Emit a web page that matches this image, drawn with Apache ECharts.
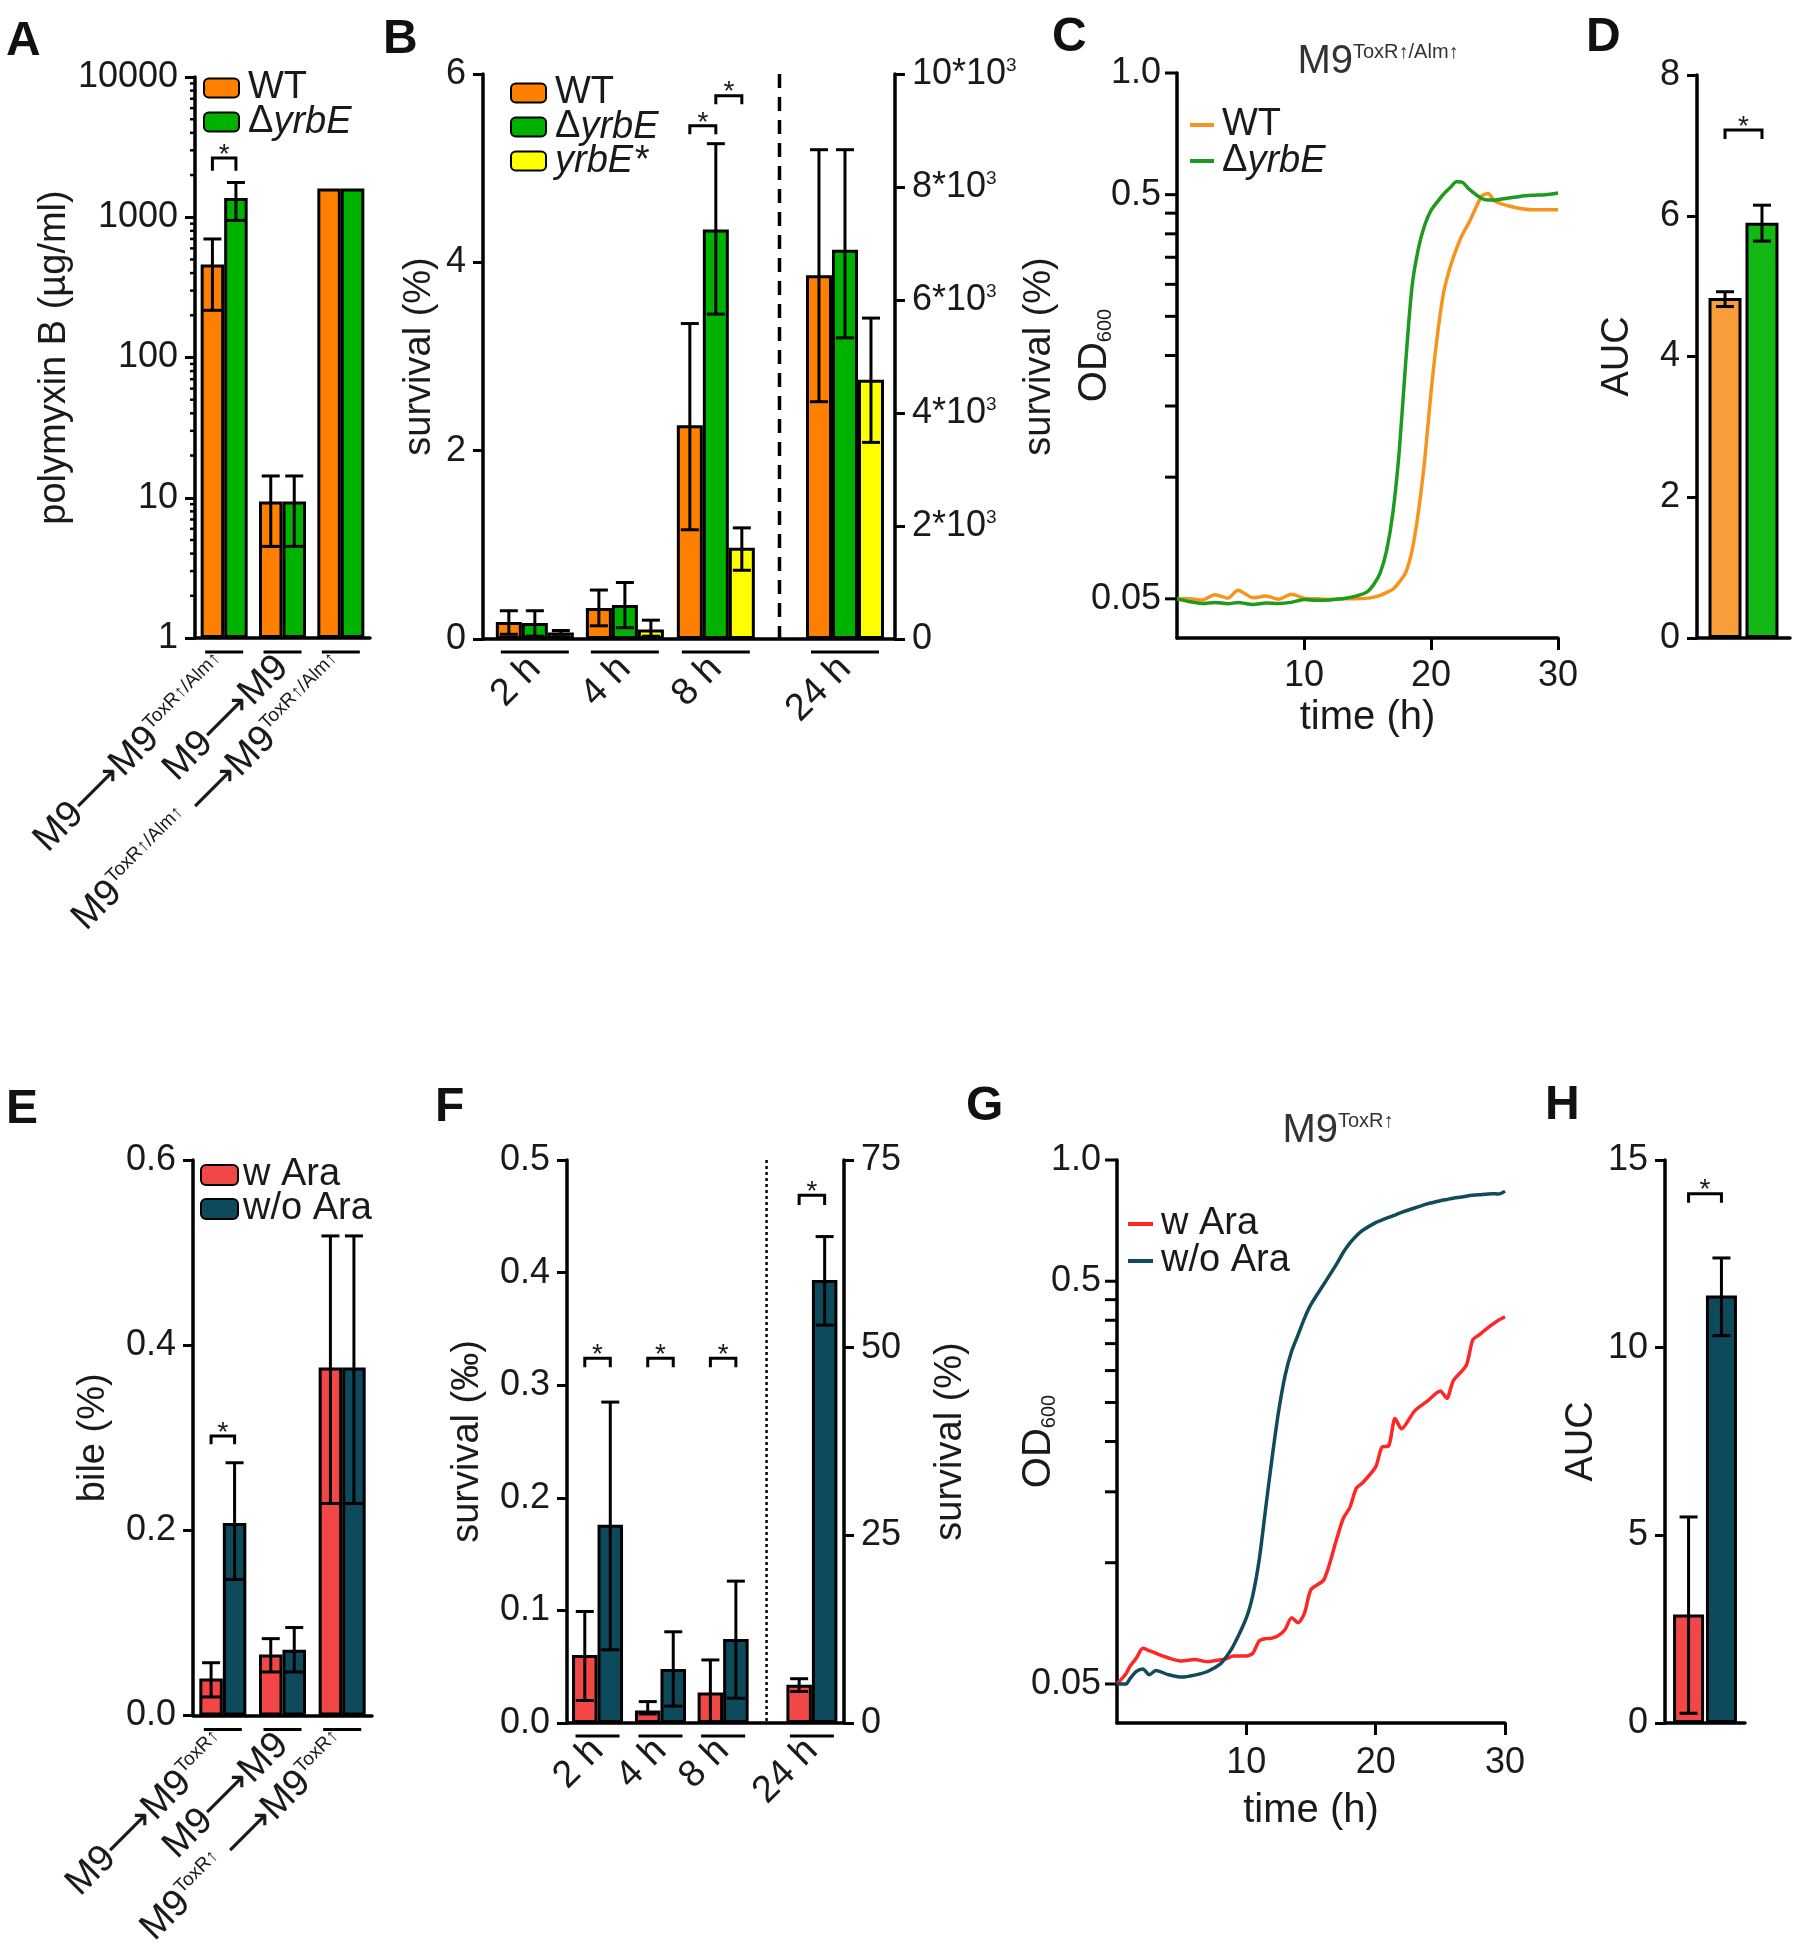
<!DOCTYPE html>
<html>
<head>
<meta charset="utf-8">
<title>yrbE / ToxR survival and growth</title>
<script src="https://cdn.jsdelivr.net/npm/echarts@6.0.0/dist/echarts.min.js"></script>
<style>
  html, body { margin: 0; padding: 0; background: #fff; }
  #page { position: relative; width: 1796px; height: 1950px; }
  .panel { position: absolute; left: 0; top: 0; width: 1796px; height: 1950px; }
</style>
</head>
<body>
<div id="page">
  <div class="panel" id="pA"></div>
  <div class="panel" id="pB"></div>
  <div class="panel" id="pC"></div>
  <div class="panel" id="pD"></div>
  <div class="panel" id="pE"></div>
  <div class="panel" id="pF"></div>
  <div class="panel" id="pG"></div>
  <div class="panel" id="pH"></div>
</div>
<script>
// ---------------- data ----------------
// A: polymyxin B MIC (log axis)
const aLabels = ['M9⟶M9{s|ToxR↑/Alm↑}', 'M9⟶M9', 'M9{s|ToxR↑/Alm↑} ⟶M9{s|ToxR↑/Alm↑}'];
const aWT = [460, 9.4, 1600];
const aWTLo = [217, 4.5, null];
const aWTHi = [700, 14.3, null];
const aDel = [1370, 9.4, 1600];
const aDelLo = [950, 4.5, null];
const aDelHi = [1770, 14.3, null];
const aSig = [2650, 2150];

// B: survival, 2/4/8 h on left axis, 24 h on right axis
const bCats = ['2 h', '4 h', '8 h', '24 h'];
const bWT = [0.18, 0.33, 2.27];
const bWTLo = [0.05, 0.14, 1.16];
const bWTHi = [0.30, 0.52, 3.35];
const bDel = [0.17, 0.36, 4.35];
const bDelLo = [0.03, 0.12, 3.45];
const bDelHi = [0.30, 0.60, 5.26];
const bStar = [0.07, 0.10, 0.97];
const bStarLo = [0.05, 0.03, 0.73];
const bStarHi = [0.09, 0.20, 1.18];
const b24 = [6440, 6890, 4590];        // WT, ΔyrbE, yrbE*
const b24Lo = [4200, 5330, 3480];
const b24Hi = [8660, 8660, 5680];
const bSig = [[5.45, 5.36], [5.77, 5.68]];

// C: growth curves in M9 ToxR↑/Alm↑
const cTime = [0, 1, 2, 3, 4, 4.8, 6, 7, 8, 9, 10, 11, 12, 13, 14, 15, 15.5, 16, 16.5, 17,
  17.5, 18, 18.5, 19, 19.5, 20, 20.5, 21, 21.5, 22, 22.5, 23, 24, 24.5, 25, 26, 27, 28, 29, 30];
const cWT = [0.050, 0.0500, 0.0497, 0.0512, 0.0502, 0.0525, 0.0503, 0.0508, 0.0499, 0.0513,
  0.0502, 0.0500, 0.0498, 0.0500, 0.0500, 0.0502, 0.0505, 0.0510, 0.0518, 0.0528,
  0.0550, 0.0580, 0.0657, 0.0817, 0.110, 0.162, 0.224, 0.287, 0.330, 0.367,
  0.400, 0.427, 0.496, 0.503, 0.482, 0.470, 0.462, 0.459, 0.459, 0.459];
const cDel = [0.050, 0.0492, 0.0487, 0.0490, 0.0486, 0.0490, 0.0484, 0.0488, 0.0487, 0.0490,
  0.0498, 0.0496, 0.0497, 0.0500, 0.0507, 0.0521, 0.0543, 0.0580, 0.0657, 0.0817,
  0.116, 0.191, 0.295, 0.367, 0.420, 0.457, 0.480, 0.502, 0.520, 0.538,
  0.536, 0.516, 0.489, 0.485, 0.485, 0.490, 0.495, 0.498, 0.500, 0.505];

// D: AUC
const dWT = [4.83], dWTLo = [4.71], dWTHi = [4.92];
const dDel = [5.90], dDelLo = [5.64], dDelHi = [6.15];
const dSig = [7.22, 7.09];

// E: bile MIC
const eLabels = ['M9⟶M9{s|ToxR↑}', 'M9⟶M9', 'M9{s|ToxR↑} ⟶M9{s|ToxR↑}'];
const eWith = [0.040, 0.066, 0.376];
const eWithLo = [0.020, 0.047, 0.229];
const eWithHi = [0.057, 0.083, 0.518];
const eWithout = [0.208, 0.071, 0.376];
const eWithoutLo = [0.147, 0.047, 0.229];
const eWithoutHi = [0.273, 0.095, 0.518];
const eSig = [0.302, 0.293];

// F: survival (‰ for 2-8 h, % for 24 h)
const fCats = ['2 h', '4 h', '8 h', '24 h'];
const fWith = [0.0605, 0.011, 0.027];
const fWithLo = [0.020, 0.008, 0.001];
const fWithHi = [0.099, 0.019, 0.056];
const fWithout = [0.176, 0.048, 0.0745];
const fWithoutLo = [0.065, 0.015, 0.022];
const fWithoutHi = [0.285, 0.081, 0.126];
const f24 = [5.1, 59.0];
const f24Lo = [4.2, 53.0];
const f24Hi = [5.9, 64.8];
const fSig = [0.324, 0.316];
const fSig24 = [70.3, 69.0];

// G: growth curves in M9 ToxR↑
const gTime = [0, 0.7, 1, 1.5, 2, 2.5, 3, 4, 5, 6, 7, 8, 8.5, 9, 10, 10.5, 11, 11.5, 12, 12.5,
  13, 13.5, 14, 14.5, 15, 16, 17, 17.5, 18, 18.5, 19, 20, 20.5, 21, 21.5, 22, 23, 24, 25, 25.5,
  26, 27, 27.5, 28, 29, 29.5, 30];
const gWith = [0.050, 0.053, 0.0553, 0.058, 0.0613, 0.0605, 0.0596, 0.058, 0.057, 0.0575,
  0.0568, 0.0574, 0.0578, 0.0587, 0.0587, 0.0596, 0.064, 0.0648, 0.065, 0.066,
  0.0683, 0.073, 0.071, 0.075, 0.0857, 0.0908, 0.115, 0.129, 0.137, 0.153,
  0.158, 0.173, 0.194, 0.195, 0.228, 0.215, 0.238, 0.252, 0.267, 0.256,
  0.283, 0.309, 0.357, 0.368, 0.390, 0.400, 0.408];
const gWithout = [0.050, 0.050, 0.0515, 0.0537, 0.0545, 0.0527, 0.054, 0.0527, 0.052, 0.0526,
  0.0537, 0.0561, 0.0587, 0.0622, 0.073, 0.083, 0.102, 0.137, 0.183, 0.238,
  0.292, 0.335, 0.368, 0.405, 0.438, 0.492, 0.553, 0.59, 0.622, 0.648,
  0.669, 0.699, 0.71, 0.72, 0.73, 0.741, 0.760, 0.778, 0.792, 0.798,
  0.804, 0.813, 0.817, 0.820, 0.825, 0.823, 0.837];

// H: AUC
const hWith = [2.89], hWithLo = [0.26], hWithHi = [5.49];
const hWithout = [11.39], hWithoutLo = [10.32], hWithoutHi = [12.39];
const hSig = [14.1, 13.86];

// OD axis ticks (C, G)
const odMajor = [1, 0.5, 0.05];
const odMajorText = ['1.0', '0.5', '0.05'];
const odMinor = [0.45, 0.4, 0.35, 0.3, 0.25, 0.2, 0.15, 0.1];

// ---------------- style ----------------
const FONT = '"Liberation Sans", Arial, Helvetica, sans-serif';
const INK = '#1a1a1a';
const FS = 36;        // tick labels
const CAT_FS = 38;    // rotated category labels
const LEG_FS = 38;    // legend text
const ORANGE = '#FF8000', GREEN = '#00B200', YELLOW = '#FFFF00';
const C_ORANGE = '#F7941D', C_GREEN = '#1E9A1E';
const D_ORANGE = '#F99D3A', D_GREEN = '#14B814';
const RED = '#F24747', TEAL = '#0C4A5C';
const G_RED = '#FF2626', G_TEAL = '#0F4B5B';

const RICH = {
  s: { fontSize: 19, fontFamily: FONT, color: INK, verticalAlign: 'top' },
  d: { fontSize: 19, fontFamily: FONT, color: INK, verticalAlign: 'bottom' },
};
const AX_LINE = { show: true, onZero: false, lineStyle: { color: '#000', width: 3.5 } };
const AX_TICK = { show: true, length: 10, lineStyle: { color: '#000', width: 3 } };
const NAME_STYLE = { color: INK, fontSize: 38, fontFamily: FONT, rich: { d: { fontSize: 20, fontFamily: FONT, color: INK, verticalAlign: 'bottom' } } };
const XNAME_STYLE = { color: INK, fontSize: 40, fontFamily: FONT };

function labelStyle(extra) {
  return Object.assign({ color: INK, fontSize: FS, fontFamily: FONT, margin: 17, rich: RICH }, extra);
}
function catLabelStyle(extra) {
  return labelStyle(Object.assign({ fontSize: CAT_FS, rotate: 45, interval: 0 }, extra));
}
function legendText(pad) {
  return {
    color: INK, fontSize: LEG_FS, fontFamily: FONT, padding: [0, 0, 0, pad],
    rich: { i: { fontSize: LEG_FS, fontFamily: FONT, color: INK, fontStyle: 'italic' } },
  };
}
function legendFmt(name) {
  if (name === 'ΔyrbE') return 'Δ{i|yrbE}';
  if (name === 'yrbE*') return '{i|yrbE*}';
  return name;
}
const nearest = (arr, v) => arr.reduce((b, a, i) => (Math.abs(a - v) < Math.abs(arr[b] - v) ? i : b), 0);

function bar(name, data, color, width, extra) {
  return Object.assign({
    name, type: 'bar', data, barWidth: width, barGap: '0%',
    itemStyle: { color, borderColor: '#000', borderWidth: 3 },
  }, extra);
}
function curve(name, xs, ys, color) {
  return {
    name, type: 'line', data: xs.map((t, i) => [t, ys[i]]), showSymbol: false, symbol: 'none',
    smooth: 0.25, lineStyle: { color, width: 3.5 }, itemStyle: { color },
  };
}
// error bars drawn through the axes' own coord()
function errBars(xs, lo, hi, offset, extra) {
  const data = [];
  lo.forEach((l, i) => { if (l != null) data.push([xs[i], l, hi[i]]); });
  return Object.assign({
    type: 'custom', z: 10, silent: true, data,
    encode: { x: 0, y: [1, 2] },
    renderItem(params, api) {
      const top = api.coord([api.value(0), api.value(2)]);
      const bot = api.coord([api.value(0), api.value(1)]);
      const x = top[0] + offset;
      const st = { stroke: '#000', lineWidth: 3 };
      return { type: 'group', children: [
        { type: 'line', shape: { x1: x, y1: top[1], x2: x, y2: bot[1] }, style: st },
        { type: 'line', shape: { x1: x - 9, y1: top[1], x2: x + 9, y2: top[1] }, style: st },
        { type: 'line', shape: { x1: x - 9, y1: bot[1], x2: x + 9, y2: bot[1] }, style: st },
      ] };
    },
  }, extra);
}

// graphic helpers
function seg(x1, y1, x2, y2, w, extra) {
  return { type: 'line', silent: true, shape: { x1, y1, x2, y2 },
    style: Object.assign({ stroke: '#000', lineWidth: w || 3 }, extra) };
}
function txt(x, y, text, align, vAlign, font, extra) {
  return { type: 'text', silent: true, x, y,
    style: Object.assign({ text, fill: INK, font, align, verticalAlign: vAlign,
      textAlign: align, textVerticalAlign: vAlign }, extra) };
}
function bracket(x1, x2, y, yLeg) {
  return [
    { type: 'polyline', silent: true, shape: { points: [[x1, yLeg], [x1, y], [x2, y], [x2, yLeg]] },
      style: { stroke: '#000', lineWidth: 3, fill: null } },
    txt((x1 + x2) / 2, y - 3, '*', 'center', 'middle', `28px ${FONT}`),
  ];
}
function letter(x, y, ch) {
  return txt(x, y, ch, 'left', 'middle', `bold 48px ${FONT}`, { fill: '#111' });
}
function plotTitle(x, y, sup) {
  return txt(x, y, `{m|M9}{t|${sup}}`, 'center', 'middle', `40px ${FONT}`, {
    rich: {
      m: { fontSize: 40, fontFamily: FONT, fill: '#333' },
      t: { fontSize: 20, fontFamily: FONT, fill: '#333', verticalAlign: 'top' },
    },
  });
}
function odTicks(yPx, axisX) {
  const g = [];
  odMajor.forEach((v, i) => {
    const y = yPx(v);
    g.push(seg(axisX - 12, y, axisX, y, 3));
    g.push(txt(axisX - 16, y, odMajorText[i], 'right', 'middle', `${FS}px ${FONT}`));
  });
  odMinor.forEach(v => g.push(seg(axisX - 12, yPx(v), axisX, yPx(v), 3)));
  return g;
}
function mk(id) { return echarts.init(document.getElementById(id)); }

// ---------------- A ----------------
(function () {
  const chart = mk('pA');
  const W = 23.5;
  chart.setOption({
    animation: false,
    grid: { left: 195, top: 77, width: 175, height: 561 },
    legend: {
      orient: 'vertical', left: 203, top: 69, padding: 0, itemWidth: 35, itemHeight: 19, itemGap: -4,
      data: ['WT', 'ΔyrbE'], formatter: legendFmt, textStyle: legendText(4),
    },
    xAxis: {
      type: 'category', data: aLabels, axisLine: AX_LINE, axisTick: { show: false },
      axisLabel: catLabelStyle({ margin: 24 }),
    },
    yAxis: {
      type: 'log', logBase: 10, min: 1, max: 10000, axisLine: AX_LINE, axisTick: AX_TICK,
      splitLine: { show: false }, axisLabel: labelStyle({ formatter: v => String(Math.round(v)) }),
      name: 'polymyxin B (µg/ml)', nameLocation: 'middle', nameRotate: 90, nameGap: 98,
      nameTextStyle: NAME_STYLE,
    },
    series: [
      bar('WT', aWT, ORANGE, W),
      bar('ΔyrbE', aDel, GREEN, W),
      errBars([0, 1, 2], aWTLo, aWTHi, -W / 2),
      errBars([0, 1, 2], aDelLo, aDelHi, W / 2),
    ],
  });
  const yPx = v => chart.convertToPixel({ yAxisIndex: 0 }, v);
  const xPx = i => chart.convertToPixel({ xAxisIndex: 0 }, i);
  const base = yPx(1);
  const g = [letter(6, 42, 'A')];
  for (let d = 1; d < 10000; d *= 10) {
    for (let k = 2; k < 10; k++) g.push(seg(190, yPx(d * k), 195, yPx(d * k), 2.5));
  }
  aLabels.forEach((_, i) => g.push(seg(xPx(i) - 19, base + 14, xPx(i) + 19, base + 14, 3)));
  g.push(...bracket(xPx(0) - W / 2, xPx(0) + W / 2, yPx(aSig[0]), yPx(aSig[1])));
  chart.setOption({ graphic: g });
})();

// ---------------- B ----------------
(function () {
  const chart = mk('pB');
  const W = 26;
  const bSlot = [0.57, 1.56, 2.56, 3.98];   // group centres along the slot axis
  const pairs = vals => vals.map((v, i) => [bSlot[i], v]);
  const R = { xAxisIndex: 1, yAxisIndex: 1 };
  chart.setOption({
    animation: false,
    grid: { left: 483, top: 74, width: 412, height: 565 },
    legend: {
      orient: 'vertical', left: 510, top: 74, padding: 0, itemWidth: 35, itemHeight: 19, itemGap: -4,
      data: ['WT', 'ΔyrbE', 'yrbE*'], formatter: legendFmt, textStyle: legendText(4),
    },
    xAxis: [
      { type: 'value', min: 0, max: 4.53, axisLine: AX_LINE, axisTick: { show: false }, splitLine: { show: false },
        axisLabel: catLabelStyle({ customValues: bSlot, formatter: v => bCats[nearest(bSlot, v)], margin: 24 }) },
      { type: 'value', min: 0, max: 4.53, show: false },
    ],
    yAxis: [
      { type: 'value', min: 0, max: 6, interval: 2, axisLine: AX_LINE, axisTick: AX_TICK, splitLine: { show: false },
        axisLabel: labelStyle(), name: 'survival (%)', nameLocation: 'middle', nameRotate: 90, nameGap: 44,
        nameTextStyle: NAME_STYLE },
      { type: 'value', position: 'right', min: 0, max: 10000, interval: 2000, axisLine: AX_LINE, axisTick: AX_TICK,
        splitLine: { show: false },
        axisLabel: labelStyle({ formatter: v => (v === 0 ? '0' : `${v / 1000}*10{s|3}`) }),
        name: 'survival (%)', nameLocation: 'middle', nameRotate: 90, nameGap: 112, nameTextStyle: NAME_STYLE },
    ],
    series: [
      bar('WT', pairs(bWT), ORANGE, W),
      bar('ΔyrbE', pairs(bDel), GREEN, W),
      bar('yrbE*', pairs(bStar), YELLOW, W),
      bar('WT', [[bSlot[3], b24[0]]], ORANGE, W, R),
      bar('ΔyrbE', [[bSlot[3], b24[1]]], GREEN, W, R),
      bar('yrbE*', [[bSlot[3], b24[2]]], YELLOW, W, R),
      errBars(bSlot, bWTLo, bWTHi, -W),
      errBars(bSlot, bDelLo, bDelHi, 0),
      errBars(bSlot, bStarLo, bStarHi, W),
      errBars([bSlot[3]], [b24Lo[0]], [b24Hi[0]], -W, R),
      errBars([bSlot[3]], [b24Lo[1]], [b24Hi[1]], 0, R),
      errBars([bSlot[3]], [b24Lo[2]], [b24Hi[2]], W, R),
    ],
  });
  const yPx = v => chart.convertToPixel({ yAxisIndex: 0 }, v);
  const xPx = v => chart.convertToPixel({ xAxisIndex: 0 }, v);
  const base = yPx(0);
  const g = [letter(383, 40, 'B')];
  g.push(seg(xPx(3.26), yPx(6), xPx(3.26), base, 3.5, { lineDash: [14, 9] }));
  bSlot.forEach(s => g.push(seg(xPx(s) - 34, base + 13, xPx(s) + 34, base + 13, 3)));
  const c8 = xPx(bSlot[2]);
  g.push(...bracket(c8 - W, c8, yPx(bSig[0][0]), yPx(bSig[0][1])));
  g.push(...bracket(c8, c8 + W, yPx(bSig[1][0]), yPx(bSig[1][1])));
  chart.setOption({ graphic: g });
})();

// ---------------- C ----------------
(function () {
  const chart = mk('pC');
  chart.setOption({
    animation: false,
    grid: { left: 1177, top: 73, width: 381, height: 565 },
    legend: {
      orient: 'vertical', left: 1190, top: 106, padding: 0, icon: 'rect', itemWidth: 24, itemHeight: 4, itemGap: -2,
      data: ['WT', 'ΔyrbE'], formatter: legendFmt, textStyle: legendText(3),
    },
    xAxis: {
      type: 'value', min: 0, max: 30, interval: 10, axisLine: AX_LINE,
      axisTick: { show: true, length: 12, customValues: [10, 20, 30], lineStyle: { color: '#000', width: 3 } },
      splitLine: { show: false }, axisLabel: labelStyle({ margin: 20, customValues: [10, 20, 30] }),
      name: 'time (h)', nameLocation: 'middle', nameGap: 60, nameTextStyle: XNAME_STYLE,
    },
    yAxis: {
      type: 'log', logBase: 10, min: 0.04, max: 1, axisLine: AX_LINE, axisTick: { show: false },
      axisLabel: { show: false }, splitLine: { show: false },
      name: 'OD{d|600}', nameLocation: 'middle', nameRotate: 90, nameGap: 62,
      nameTextStyle: Object.assign({}, NAME_STYLE, { fontSize: 40 }),
    },
    series: [curve('WT', cTime, cWT, C_ORANGE), curve('ΔyrbE', cTime, cDel, C_GREEN)],
  });
  const yPx = v => chart.convertToPixel({ yAxisIndex: 0 }, v);
  const g = [letter(1052, 38, 'C')];
  g.push(...odTicks(yPx, 1177));
  g.push(plotTitle(1378, 62, 'ToxR↑/Alm↑'));
  chart.setOption({ graphic: g });
})();

// ---------------- D ----------------
(function () {
  const chart = mk('pD');
  const W = 33, step = W * 1.12;
  chart.setOption({
    animation: false,
    grid: { left: 1697, top: 75, width: 93, height: 563 },
    xAxis: { type: 'category', data: [''], axisLine: AX_LINE, axisTick: { show: false }, axisLabel: { show: false } },
    yAxis: {
      type: 'value', min: 0, max: 8, interval: 2, axisLine: AX_LINE, axisTick: AX_TICK, splitLine: { show: false },
      axisLabel: labelStyle(), name: 'AUC', nameLocation: 'middle', nameRotate: 90, nameGap: 60, nameTextStyle: NAME_STYLE,
    },
    series: [
      bar('WT', dWT, D_ORANGE, W, { barGap: '12%' }),
      bar('ΔyrbE', dDel, D_GREEN, W, { barGap: '12%' }),
      errBars([0], dWTLo, dWTHi, -step / 2),
      errBars([0], dDelLo, dDelHi, step / 2),
    ],
  });
  const yPx = v => chart.convertToPixel({ yAxisIndex: 0 }, v);
  const cx = chart.convertToPixel({ xAxisIndex: 0 }, 0);
  const g = [letter(1586, 38, 'D')];
  g.push(...bracket(cx - step / 2, cx + step / 2, yPx(dSig[0]), yPx(dSig[1])));
  chart.setOption({ graphic: g });
})();

// ---------------- E ----------------
(function () {
  const chart = mk('pE');
  const W = 23.5;
  chart.setOption({
    animation: false,
    grid: { left: 193, top: 1160, width: 179, height: 563 },
    legend: {
      orient: 'vertical', left: 200, top: 1156, padding: 0, itemWidth: 37, itemHeight: 20, itemGap: -4,
      data: ['w Ara', 'w/o Ara'], textStyle: legendText(0),
    },
    xAxis: {
      type: 'category', data: eLabels, axisLine: AX_LINE, axisTick: { show: false },
      axisLabel: catLabelStyle({ margin: 24 }),
    },
    yAxis: {
      type: 'value', min: 0, max: 0.6, interval: 0.2, axisLine: AX_LINE, axisTick: AX_TICK, splitLine: { show: false },
      axisLabel: labelStyle({ formatter: v => v.toFixed(1) }),
      name: 'bile (%)', nameLocation: 'middle', nameRotate: 90, nameGap: 80, nameTextStyle: NAME_STYLE,
    },
    series: [
      bar('w Ara', eWith, RED, W),
      bar('w/o Ara', eWithout, TEAL, W),
      errBars([0, 1, 2], eWithLo, eWithHi, -W / 2),
      errBars([0, 1, 2], eWithoutLo, eWithoutHi, W / 2),
    ],
  });
  const yPx = v => chart.convertToPixel({ yAxisIndex: 0 }, v);
  const xPx = i => chart.convertToPixel({ xAxisIndex: 0 }, i);
  const base = yPx(0);
  const g = [letter(6, 1110, 'E')];
  eLabels.forEach((_, i) => g.push(seg(xPx(i) - 19, base + 14, xPx(i) + 19, base + 14, 3)));
  g.push(...bracket(xPx(0) - W / 2, xPx(0) + W / 2, yPx(eSig[0]), yPx(eSig[1])));
  chart.setOption({ graphic: g });
})();

// ---------------- F ----------------
(function () {
  const chart = mk('pF');
  const W = 25.5;
  const fSlot = [0.485, 1.485, 2.48, 3.89];
  const pairs = vals => vals.map((v, i) => [fSlot[i], v]);
  const R = { xAxisIndex: 1, yAxisIndex: 1 };
  chart.setOption({
    animation: false,
    grid: { left: 567, top: 1160, width: 277, height: 563 },
    xAxis: [
      { type: 'value', min: 0, max: 4.4, axisLine: AX_LINE, axisTick: { show: false }, splitLine: { show: false },
        axisLabel: catLabelStyle({ customValues: fSlot, formatter: v => fCats[nearest(fSlot, v)], margin: 22 }) },
      { type: 'value', min: 0, max: 4.4, show: false },
    ],
    yAxis: [
      { type: 'value', min: 0, max: 0.5, interval: 0.1, axisLine: AX_LINE, axisTick: AX_TICK, splitLine: { show: false },
        axisLabel: labelStyle({ formatter: v => v.toFixed(1) }),
        name: 'survival (‰)', nameLocation: 'middle', nameRotate: 90, nameGap: 80, nameTextStyle: NAME_STYLE },
      { type: 'value', position: 'right', min: 0, max: 75, interval: 25, axisLine: AX_LINE, axisTick: AX_TICK,
        splitLine: { show: false }, axisLabel: labelStyle(),
        name: 'survival (%)', nameLocation: 'middle', nameRotate: 90, nameGap: 88, nameTextStyle: NAME_STYLE },
    ],
    series: [
      bar('w Ara', pairs(fWith), RED, W),
      bar('w/o Ara', pairs(fWithout), TEAL, W),
      bar('w Ara', [[fSlot[3], f24[0]]], RED, W, R),
      bar('w/o Ara', [[fSlot[3], f24[1]]], TEAL, W, R),
      errBars(fSlot, fWithLo, fWithHi, -W / 2),
      errBars(fSlot, fWithoutLo, fWithoutHi, W / 2),
      errBars([fSlot[3]], [f24Lo[0]], [f24Hi[0]], -W / 2, R),
      errBars([fSlot[3]], [f24Lo[1]], [f24Hi[1]], W / 2, R),
    ],
  });
  const yPx = v => chart.convertToPixel({ yAxisIndex: 0 }, v);
  const yPxR = v => chart.convertToPixel({ yAxisIndex: 1 }, v);
  const xPx = v => chart.convertToPixel({ xAxisIndex: 0 }, v);
  const base = yPx(0);
  const g = [letter(435, 1108, 'F')];
  g.push(seg(xPx(3.17), yPx(0.5), xPx(3.17), base, 2.5, { lineDash: [3, 3] }));
  fSlot.forEach(s => g.push(seg(xPx(s) - 22, base + 13, xPx(s) + 22, base + 13, 3)));
  fSlot.slice(0, 3).forEach(s => g.push(...bracket(xPx(s) - W / 2, xPx(s) + W / 2, yPx(fSig[0]), yPx(fSig[1]))));
  const c24 = xPx(fSlot[3]);
  g.push(...bracket(c24 - W / 2, c24 + W / 2, yPxR(fSig24[0]), yPxR(fSig24[1])));
  chart.setOption({ graphic: g });
})();

// ---------------- G ----------------
(function () {
  const chart = mk('pG');
  chart.setOption({
    animation: false,
    grid: { left: 1117, top: 1160, width: 388, height: 563 },
    legend: {
      orient: 'vertical', left: 1128, top: 1205, padding: 0, icon: 'rect', itemWidth: 25, itemHeight: 4, itemGap: -1,
      data: ['w Ara', 'w/o Ara'], textStyle: legendText(3),
    },
    xAxis: {
      type: 'value', min: 0, max: 30, interval: 10, axisLine: AX_LINE,
      axisTick: { show: true, length: 12, customValues: [10, 20, 30], lineStyle: { color: '#000', width: 3 } },
      splitLine: { show: false }, axisLabel: labelStyle({ margin: 22, customValues: [10, 20, 30] }),
      name: 'time (h)', nameLocation: 'middle', nameGap: 68, nameTextStyle: XNAME_STYLE,
    },
    yAxis: {
      type: 'log', logBase: 10, min: 0.04, max: 1, axisLine: AX_LINE, axisTick: { show: false },
      axisLabel: { show: false }, splitLine: { show: false },
      name: 'OD{d|600}', nameLocation: 'middle', nameRotate: 90, nameGap: 58,
      nameTextStyle: Object.assign({}, NAME_STYLE, { fontSize: 40 }),
    },
    series: [curve('w Ara', gTime, gWith, G_RED), curve('w/o Ara', gTime, gWithout, G_TEAL)],
  });
  const yPx = v => chart.convertToPixel({ yAxisIndex: 0 }, v);
  const g = [letter(966, 1107, 'G')];
  g.push(...odTicks(yPx, 1117));
  g.push(plotTitle(1338, 1131, 'ToxR↑'));
  chart.setOption({ graphic: g });
})();

// ---------------- H ----------------
(function () {
  const chart = mk('pH');
  const W = 31, step = W * 1.06;
  chart.setOption({
    animation: false,
    grid: { left: 1665, top: 1160, width: 80, height: 563 },
    xAxis: { type: 'category', data: [''], axisLine: AX_LINE, axisTick: { show: false }, axisLabel: { show: false } },
    yAxis: {
      type: 'value', min: 0, max: 15, interval: 5, axisLine: AX_LINE, axisTick: AX_TICK, splitLine: { show: false },
      axisLabel: labelStyle(), name: 'AUC', nameLocation: 'middle', nameRotate: 90, nameGap: 64, nameTextStyle: NAME_STYLE,
    },
    series: [
      bar('w Ara', hWith, RED, W, { barGap: '6%' }),
      bar('w/o Ara', hWithout, TEAL, W, { barGap: '6%' }),
      errBars([0], hWithLo, hWithHi, -step / 2),
      errBars([0], hWithoutLo, hWithoutHi, step / 2),
    ],
  });
  const yPx = v => chart.convertToPixel({ yAxisIndex: 0 }, v);
  const cx = chart.convertToPixel({ xAxisIndex: 0 }, 0);
  const g = [letter(1545, 1106, 'H')];
  g.push(...bracket(cx - step / 2, cx + step / 2, yPx(hSig[0]), yPx(hSig[1])));
  chart.setOption({ graphic: g });
})();
</script>
</body>
</html>
